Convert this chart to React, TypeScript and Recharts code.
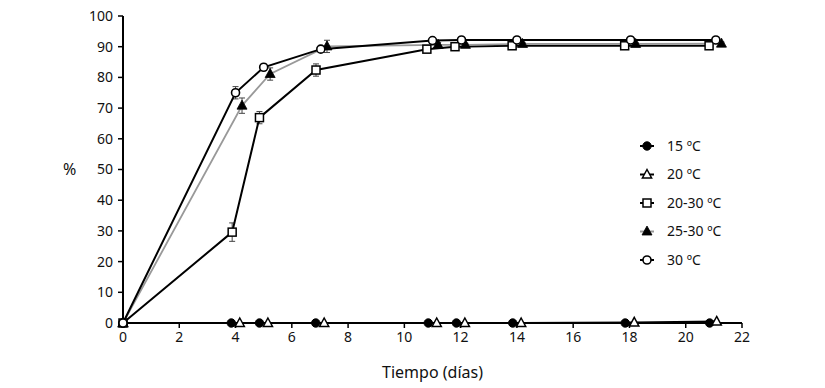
import React from "react";
import { LineChart, Line, XAxis, YAxis, ErrorBar, Label } from "recharts";

const xTicks = [0, 2, 4, 6, 8, 10, 12, 14, 16, 18, 20, 22];
const yTicks = [0, 10, 20, 30, 40, 50, 60, 70, 80, 90, 100];

const x15 = [0, 3.85, 4.85, 6.85, 10.85, 11.85, 13.85, 17.85, 20.85];
const y15 = [0, 0, 0, 0, 0, 0, 0, 0, 0];
const e15 = [0, 0, 0, 0, 0, 0, 0, 0, 0];

const x20 = [0, 4.15, 5.15, 7.15, 11.15, 12.15, 14.15, 18.17, 21.1];
const y20 = [0, 0, 0, 0, 0, 0, 0, 0.2, 0.5];
const e20 = [0, 0, 0, 0, 0, 0, 0, 0, 0];

const x2030 = [0, 3.88, 4.85, 6.86, 10.8, 11.8, 13.83, 17.83, 20.83];
const y2030 = [0, 29.6, 66.9, 82.4, 89.2, 90, 90.3, 90.3, 90.3];
const e2030 = [0, 3, 2, 2, 1, 0.5, 0.5, 0.5, 0.5];

const x2530 = [0, 4.23, 5.23, 7.25, 11.2, 12.17, 14.2, 18.22, 21.27];
const y2530 = [0, 70.8, 81.1, 90.1, 90.6, 90.6, 90.9, 90.9, 91];
const e2530 = [0, 2.5, 2, 2, 0.8, 0.5, 0.5, 0.5, 0.5];

const x30 = [0, 4.0, 5.0, 7.03, 11.0, 12.03, 14.0, 18.04, 21.07];
const y30 = [0, 75, 83.3, 89.2, 92, 92.2, 92.2, 92.2, 92.2];
const e30 = [0, 2, 1, 0.8, 0.5, 0.5, 0.5, 0.5, 0.5];

const legendLabels = ["15 ºC", "20 ºC", "20-30 ºC", "25-30 ºC", "30 ºC"];

const build = (xs: number[], ys: number[], es: number[]) =>
  xs.map((x, i) => ({ x, y: ys[i], e: es[i] }));

const d15 = build(x15, y15, e15);
const d20 = build(x20, y20, e20);
const d2030 = build(x2030, y2030, e2030);
const d2530 = build(x2530, y2530, e2530);
const d30 = build(x30, y30, e30);

type Kind = "fcircle" | "otri" | "osquare" | "ftri" | "ocircle";

const shape = (kind: Kind, cx: number, cy: number, key?: any) => {
  switch (kind) {
    case "fcircle":
      return <circle key={key} cx={cx} cy={cy} r={4.2} fill="#000" stroke="#000" strokeWidth={1} />;
    case "ocircle":
      return <circle key={key} cx={cx} cy={cy} r={4} fill="#fff" stroke="#000" strokeWidth={1.6} />;
    case "osquare":
      return <rect key={key} x={cx - 4} y={cy - 4} width={8} height={8} fill="#fff" stroke="#000" strokeWidth={1.5} />;
    case "ftri":
      return <path key={key} d={`M${cx},${cy - 5.5} L${cx + 5},${cy + 3.5} L${cx - 5},${cy + 3.5} Z`} fill="#000" stroke="#000" strokeWidth={0.8} />;
    case "otri":
      return <path key={key} d={`M${cx},${cy - 5} L${cx + 4.6},${cy + 3.5} L${cx - 4.6},${cy + 3.5} Z`} fill="#fff" stroke="#000" strokeWidth={1.5} />;
  }
};

const dotFor = (kind: Kind) => (props: any) => {
  const { cx, cy, index } = props;
  if (cx == null || cy == null) return <g key={index} />;
  return shape(kind, cx, cy, index);
};

const font = "'Noto Sans', sans-serif";

const legendItems: { kind: Kind; color: string; width: number }[] = [
  { kind: "fcircle", color: "#000", width: 2 },
  { kind: "otri", color: "#000", width: 2 },
  { kind: "osquare", color: "#000", width: 2 },
  { kind: "ftri", color: "#999", width: 2 },
  { kind: "ocircle", color: "#000", width: 2 },
];

export default function App() {
  return (
    <div style={{ position: "absolute", left: 0, top: 0, width: 825, height: 388, background: "#fff" }}>
      <LineChart
        width={825}
        height={388}
        margin={{ top: 16, right: 83, left: 0, bottom: 0 }}
        style={{ fontFamily: font }}
      >
        <XAxis
          type="number"
          dataKey="x"
          domain={[0, 22]}
          ticks={xTicks}
          allowDuplicatedCategory={false}
          height={65}
          axisLine={{ stroke: "#000", strokeWidth: 2 }}
          tickLine={{ stroke: "#000", strokeWidth: 1.5 }}
          tickSize={5}
          tickMargin={4}
          tick={{ fill: "#111", fontSize: 14, fontFamily: font }}
        >
          <Label value="Tiempo (días)" position="insideBottom" offset={10} style={{ fill: "#111", fontSize: 16, fontFamily: font }} />
        </XAxis>
        <YAxis
          type="number"
          dataKey="y"
          domain={[0, 100]}
          ticks={yTicks}
          width={123}
          axisLine={{ stroke: "#000", strokeWidth: 2 }}
          tickLine={{ stroke: "#000", strokeWidth: 1.5 }}
          tickSize={5}
          tickMargin={5}
          tick={{ fill: "#111", fontSize: 14, fontFamily: font }}
        >
          <Label value="%" position="insideLeft" offset={63} style={{ fill: "#111", fontSize: 16, fontFamily: font, textAnchor: "start" }} />
        </YAxis>
        <Line data={d15} dataKey="y" stroke="#000" strokeWidth={2} dot={dotFor("fcircle")} isAnimationActive={false} />
        <Line data={d20} dataKey="y" stroke="#000" strokeWidth={2} dot={dotFor("otri")} isAnimationActive={false} />
        <Line data={d2030} dataKey="y" stroke="#000" strokeWidth={2} dot={dotFor("osquare")} isAnimationActive={false}>
          <ErrorBar dataKey="e" direction="y" width={3} stroke="#444" strokeWidth={1} />
        </Line>
        <Line data={d2530} dataKey="y" stroke="#999" strokeWidth={1.8} dot={dotFor("ftri")} isAnimationActive={false}>
          <ErrorBar dataKey="e" direction="y" width={3} stroke="#444" strokeWidth={1} />
        </Line>
        <Line data={d30} dataKey="y" stroke="#000" strokeWidth={2} dot={dotFor("ocircle")} isAnimationActive={false}>
          <ErrorBar dataKey="e" direction="y" width={3} stroke="#444" strokeWidth={1} />
        </Line>
      </LineChart>
      <svg width={825} height={388} style={{ position: "absolute", left: 0, top: 0, pointerEvents: "none" }}>
        {legendItems.map((it, i) => {
          const y = 146 + i * 28.5;
          return (
            <g key={i}>
              <line x1={640} x2={654} y1={y} y2={y} stroke={it.color} strokeWidth={it.width} />
              {shape(it.kind, 647, y)}
              <text x={667} y={y} dy="0.35em" fontSize={14} fontFamily={font} fill="#111">
                {legendLabels[i]}
              </text>
            </g>
          );
        })}
      </svg>
    </div>
  );
}
